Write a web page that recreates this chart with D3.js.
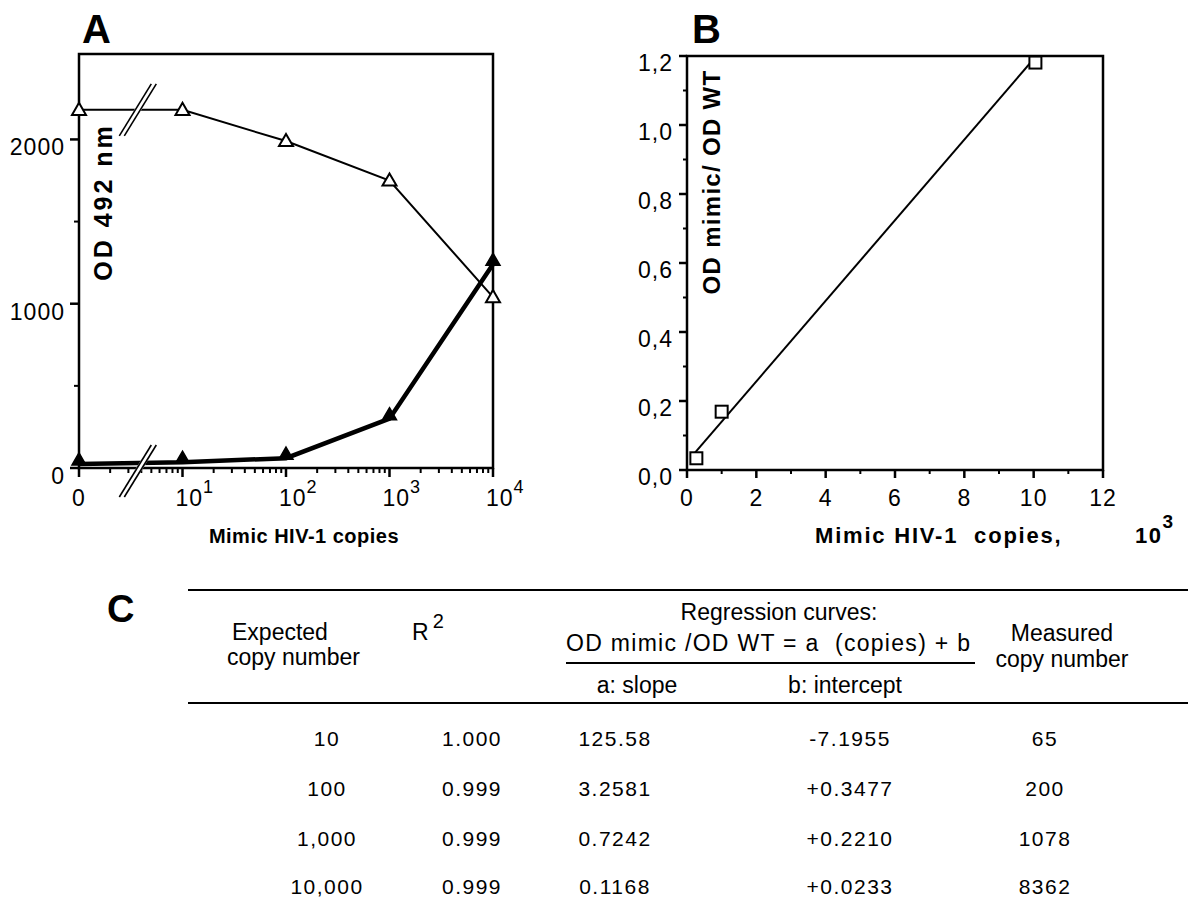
<!DOCTYPE html>
<html>
<head>
<meta charset="utf-8">
<script src="https://cdn.jsdelivr.net/npm/d3@7"></script>
<style>
  html, body { margin: 0; padding: 0; background: #fff; }
  svg { display: block; }
  text { font-family: "Liberation Sans", Arial, Helvetica, sans-serif; fill: #000; }
</style>
</head>
<body>
<svg id="chart" width="1188" height="909"></svg>
<script>
// ---------------- DATA ----------------
// Panel A: x positions (the "0" point is drawn at the 10^0 position of the log axis)
const copiesA = [1, 10, 100, 1000, 10000];
const xTickLabelsA = [["0", ""], ["10", "1"], ["10", "2"], ["10", "3"], ["10", "4"]];
const odOpen = [2180, 2180, 1990, 1750, 1040];     // open triangles (thin line)
const odFilled = [25, 35, 60, 300, 1240];          // filled triangles (thick line)
const yTicksA = [0, 1000, 2000];
const yMinorA = [500, 1500];

// Panel B
const copiesB = [0.27, 1.0, 10.05];                // x 10^3 copies
const ratioB = [0.034, 0.169, 1.181];               // OD mimic / OD WT
const xTicksB = [0, 2, 4, 6, 8, 10, 12];
const xMinorB = [1, 3, 5, 7, 9, 11];
const yTicksB = [0, 0.2, 0.4, 0.6, 0.8, 1.0, 1.2];
const yTickLabelsB = ["0,0", "0,2", "0,4", "0,6", "0,8", "1,0", "1,2"];
const yMinorB = [0.1, 0.3, 0.5, 0.7, 0.9, 1.1];
const fitRange = [0.2, 10];

// Panel C table
const expected = ["10", "100", "1,000", "10,000"];
const r2 = ["1.000", "0.999", "0.999", "0.999"];
const slopes = ["125.58", "3.2581", "0.7242", "0.1168"];
const intercepts = ["-7.1955", "+0.3477", "+0.2210", "+0.0233"];
const measured = ["65", "200", "1078", "8362"];
const slopeNum = 0.1168, interceptNum = 0.0233;     // regression used in panel B

// ---------------- DRAW ----------------
const svg = d3.select("#chart");

// ===== Panel A =====
const xA = d3.scaleLog().domain([1, 10000]).range([79, 493]);
const yA = d3.scaleLinear().domain([0, 2520]).range([468, 54]);
const gA = svg.append("g");

gA.append("rect").attr("x", xA.range()[0]).attr("y", yA.range()[1])
  .attr("width", xA.range()[1] - xA.range()[0]).attr("height", yA.range()[0] - yA.range()[1])
  .attr("fill", "none").attr("stroke", "#000").attr("stroke-width", 2.5);

const minorA = [];
for (let d = 1; d < 10000; d *= 10) for (let k = 2; k <= 9; k++) minorA.push(d * k);
gA.selectAll(".xminA").data(minorA).join("line")
  .attr("x1", d => xA(d)).attr("x2", d => xA(d))
  .attr("y1", yA(0)).attr("y2", yA(0) + 5).attr("stroke", "#000").attr("stroke-width", 2);
gA.selectAll(".xmajA").data(copiesA).join("line")
  .attr("x1", d => xA(d)).attr("x2", d => xA(d))
  .attr("y1", yA(0)).attr("y2", yA(0) + 9).attr("stroke", "#000").attr("stroke-width", 2.5);
const xlab = gA.selectAll(".xlabA").data(copiesA).join("text")
  .attr("x", (d, i) => xA(d) + (i === 0 ? 0 : -7)).attr("y", 506)
  .attr("text-anchor", (d, i) => i === 0 ? "middle" : "start")
  .attr("font-size", 23).style("letter-spacing", "1px");
xlab.append("tspan").text((d, i) => xTickLabelsA[i][0]);
xlab.append("tspan").attr("dy", -13).attr("font-size", 18).text((d, i) => xTickLabelsA[i][1]);

gA.selectAll(".ytA").data(yTicksA).join("line")
  .attr("x1", xA.range()[0] - 9).attr("x2", xA.range()[0])
  .attr("y1", d => yA(d)).attr("y2", d => yA(d)).attr("stroke", "#000").attr("stroke-width", 2.5);
gA.selectAll(".ymA").data(yMinorA).join("line")
  .attr("x1", xA.range()[0] - 5).attr("x2", xA.range()[0])
  .attr("y1", d => yA(d)).attr("y2", d => yA(d)).attr("stroke", "#000").attr("stroke-width", 2);
gA.selectAll(".ylA").data(yTicksA).join("text")
  .attr("x", 65).attr("y", d => yA(d) + 16).attr("text-anchor", "end")
  .attr("font-size", 23).style("letter-spacing", "1px").text(d => d);

const lineA = (vals) => d3.line().x((d, i) => xA(copiesA[i])).y(d => yA(d))(vals);
gA.append("path").attr("d", lineA(odOpen)).attr("fill", "none").attr("stroke", "#000").attr("stroke-width", 2);
gA.append("path").attr("d", lineA(odFilled)).attr("fill", "none").attr("stroke", "#000")
  .attr("stroke-width", 4.5).attr("stroke-linejoin", "miter");

const tri = d3.symbol().type(d3.symbolTriangle).size(85);
gA.selectAll(".opTri").data(odOpen).join("path")
  .attr("d", tri).attr("transform", (d, i) => `translate(${xA(copiesA[i])},${yA(d) + 1})`)
  .attr("fill", "#fff").attr("stroke", "#000").attr("stroke-width", 2);
gA.selectAll(".fiTri").data(odFilled).join("path")
  .attr("d", tri).attr("transform", (d, i) => `translate(${xA(copiesA[i])},${yA(d) - 3})`)
  .attr("fill", "#000").attr("stroke", "#000").attr("stroke-width", 1.5);

function breakMark(cx, cy) {
  const dx = 16, dy = 26;
  gA.append("line").attr("x1", cx - dx).attr("y1", cy + dy).attr("x2", cx + dx).attr("y2", cy - dy)
    .attr("stroke", "#fff").attr("stroke-width", 6);
  [-2.5, 2.5].forEach(o => {
    gA.append("line").attr("x1", cx - dx + o).attr("y1", cy + dy).attr("x2", cx + dx + o).attr("y2", cy - dy)
      .attr("stroke", "#000").attr("stroke-width", 1.6);
  });
}
breakMark(xA(3.7), yA(odOpen[0]));
breakMark(xA(3.7), yA(0) + 3);

gA.append("text").attr("x", 82).attr("y", 43).attr("font-size", 40).attr("font-weight", "bold").text("A");
gA.append("text").attr("transform", `translate(112,202) rotate(-90)`).attr("text-anchor", "middle")
  .attr("font-size", 25).attr("font-weight", "bold").style("letter-spacing", "3px").text("OD 492 nm");
gA.append("text").attr("x", 304).attr("y", 543).attr("text-anchor", "middle")
  .attr("font-size", 20).attr("font-weight", "bold").style("letter-spacing", "0.5px").text("Mimic HIV-1 copies");

// ===== Panel B =====
const xB = d3.scaleLinear().domain([0, 12]).range([687, 1103]);
const yB = d3.scaleLinear().domain([0, 1.2]).range([470, 56]);
const gB = svg.append("g");
gB.append("rect").attr("x", xB.range()[0]).attr("y", yB.range()[1])
  .attr("width", xB.range()[1] - xB.range()[0]).attr("height", yB.range()[0] - yB.range()[1])
  .attr("fill", "none").attr("stroke", "#000").attr("stroke-width", 2.5);

gB.selectAll(".xtB").data(xTicksB).join("line")
  .attr("x1", d => xB(d)).attr("x2", d => xB(d)).attr("y1", yB(0)).attr("y2", yB(0) + 8)
  .attr("stroke", "#000").attr("stroke-width", 2.5);
gB.selectAll(".xmB").data(xMinorB).join("line")
  .attr("x1", d => xB(d)).attr("x2", d => xB(d)).attr("y1", yB(0)).attr("y2", yB(0) + 4)
  .attr("stroke", "#000").attr("stroke-width", 2);
gB.selectAll(".xlB").data(xTicksB).join("text")
  .attr("x", d => xB(d)).attr("y", 506).attr("text-anchor", "middle")
  .attr("font-size", 23).style("letter-spacing", "1px").text(d => d);

gB.selectAll(".ytB").data(yTicksB).join("line")
  .attr("x1", xB.range()[0] - 8).attr("x2", xB.range()[0]).attr("y1", d => yB(d)).attr("y2", d => yB(d))
  .attr("stroke", "#000").attr("stroke-width", 2.5);
gB.selectAll(".ymB").data(yMinorB).join("line")
  .attr("x1", xB.range()[0] - 4).attr("x2", xB.range()[0]).attr("y1", d => yB(d)).attr("y2", d => yB(d))
  .attr("stroke", "#000").attr("stroke-width", 2);
gB.selectAll(".ylB").data(yTicksB).join("text")
  .attr("x", 673).attr("y", d => yB(d) + 15).attr("text-anchor", "end")
  .attr("font-size", 23).style("letter-spacing", "1px").text((d, i) => yTickLabelsB[i]);

gB.append("line")
  .attr("x1", xB(fitRange[0])).attr("y1", yB(slopeNum * fitRange[0] + interceptNum))
  .attr("x2", xB(fitRange[1])).attr("y2", yB(slopeNum * fitRange[1] + interceptNum))
  .attr("stroke", "#000").attr("stroke-width", 2);
gB.selectAll(".sq").data(copiesB).join("rect")
  .attr("x", d => xB(d) - 6).attr("y", (d, i) => yB(ratioB[i]) - 6)
  .attr("width", 12).attr("height", 12)
  .attr("fill", "#fff").attr("stroke", "#000").attr("stroke-width", 2);

gB.append("text").attr("x", 692).attr("y", 43).attr("font-size", 40).attr("font-weight", "bold").text("B");
gB.append("text").attr("transform", `translate(720,182) rotate(-90)`).attr("text-anchor", "middle")
  .attr("font-size", 24).attr("font-weight", "bold").style("letter-spacing", "1.3px").text("OD mimic/ OD WT");
gB.append("text").attr("x", 815).attr("y", 543).attr("text-anchor", "start")
  .attr("font-size", 22).attr("font-weight", "bold").style("letter-spacing", "1.8px")
  .attr("xml:space", "preserve").text("Mimic HIV-1  copies,");
const bx = gB.append("text").attr("x", 1135).attr("y", 543).attr("text-anchor", "start")
  .attr("font-size", 22).attr("font-weight", "bold").style("letter-spacing", "1.5px");
bx.append("tspan").text("10");
bx.append("tspan").attr("dy", -15).attr("font-size", 19).text("3");

// ===== Panel C (table) =====
const gC = svg.append("g");
gC.append("text").attr("x", 107).attr("y", 622).attr("font-size", 38).attr("font-weight", "bold").text("C");
gC.append("line").attr("x1", 188).attr("x2", 1188).attr("y1", 590).attr("y2", 590).attr("stroke", "#000").attr("stroke-width", 2);
gC.append("line").attr("x1", 188).attr("x2", 1188).attr("y1", 703).attr("y2", 703).attr("stroke", "#000").attr("stroke-width", 2);
gC.append("line").attr("x1", 566).attr("x2", 975).attr("y1", 663).attr("y2", 663).attr("stroke", "#000").attr("stroke-width", 2);

const hdr = (x, y, t, anchor) => gC.append("text").attr("x", x).attr("y", y)
  .attr("text-anchor", anchor || "middle").attr("font-size", 23).attr("xml:space", "preserve").text(t);
hdr(232, 640, "Expected", "start");
hdr(227, 665, "copy number", "start");
const r2t = gC.append("text").attr("x", 412).attr("y", 640).attr("font-size", 23);
r2t.append("tspan").text("R");
r2t.append("tspan").attr("dx", 4).attr("dy", -12).attr("font-size", 20).text("2");
hdr(779, 620, "Regression curves:");
hdr(566, 651, "OD mimic /OD WT = a  (copies) + b", "start")
  .attr("textLength", 404).attr("lengthAdjust", "spacing");
hdr(637, 693, "a: slope");
hdr(845, 693, "b: intercept");
hdr(1062, 641, "Measured");
hdr(1062, 667, "copy number");

const colX = [327, 472, 615, 850, 1045];
const cols = [expected, r2, slopes, intercepts, measured];
const rowY = [746, 796, 846, 894];
cols.forEach((col, c) => {
  gC.selectAll(".c" + c).data(col).join("text")
    .attr("x", colX[c]).attr("y", (d, i) => rowY[i]).attr("text-anchor", "middle")
    .attr("font-size", 21).style("letter-spacing", "1.5px").text(d => d);
});
</script>
</body>
</html>
